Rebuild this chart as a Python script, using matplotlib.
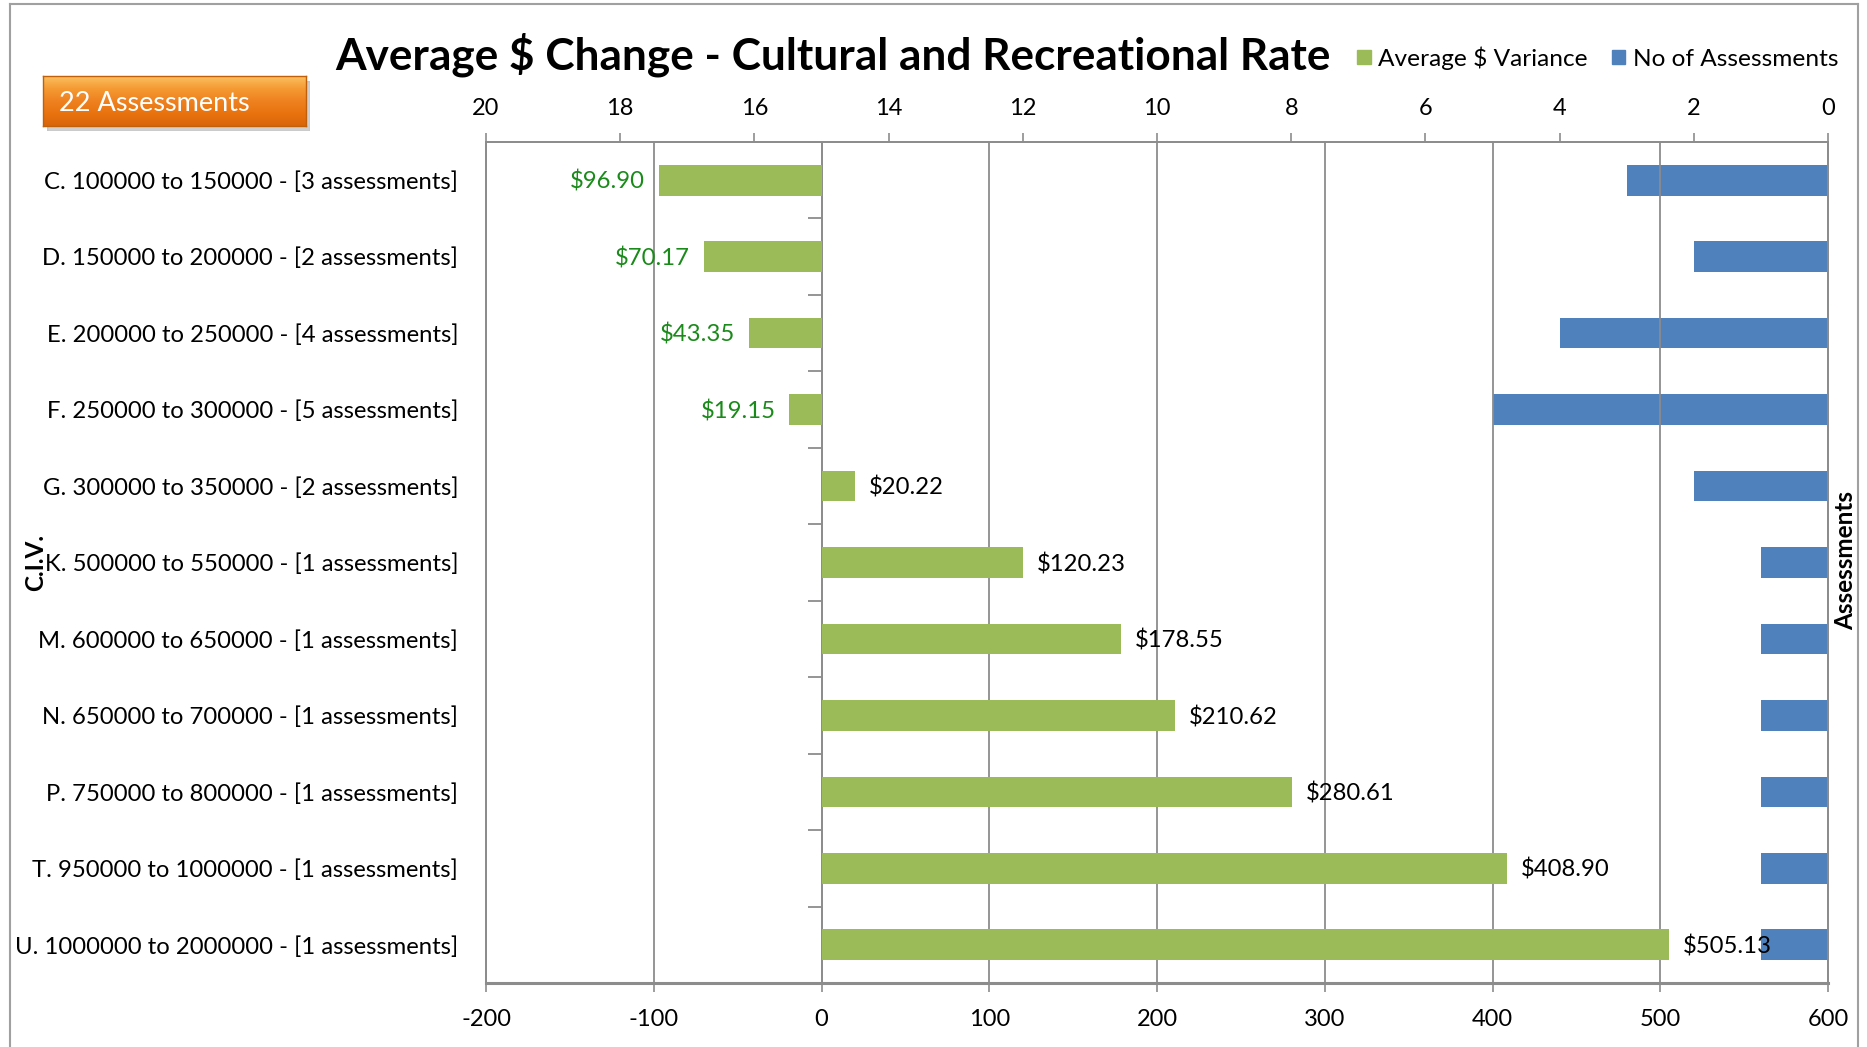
import numpy as np
import matplotlib
matplotlib.use("Agg")
import matplotlib.pyplot as plt
from matplotlib.patches import Patch
from matplotlib.lines import Line2D
from matplotlib.colors import LinearSegmentedColormap

plt.rcParams['font.family'] = ['Lato', 'DejaVu Sans']

categories = [
    "C. 100000 to 150000 - [3 assessments]",
    "D. 150000 to 200000 - [2 assessments]",
    "E. 200000 to 250000 - [4 assessments]",
    "F. 250000 to 300000 - [5 assessments]",
    "G. 300000 to 350000 - [2 assessments]",
    "K. 500000 to 550000 - [1 assessments]",
    "M. 600000 to 650000 - [1 assessments]",
    "N. 650000 to 700000 - [1 assessments]",
    "P. 750000 to 800000 - [1 assessments]",
    "T. 950000 to 1000000 - [1 assessments]",
    "U. 1000000 to 2000000 - [1 assessments]",
]
avg_variance = [-96.90, -70.17, -43.35, -19.15, 20.22, 120.23, 178.55, 210.62, 280.61, 408.90, 505.13]
num_assessments = [3, 2, 4, 5, 2, 1, 1, 1, 1, 1, 1]
bottom_ticks = [-200, -100, 0, 100, 200, 300, 400, 500, 600]
top_ticks = [20, 18, 16, 14, 12, 10, 8, 6, 4, 2, 0]

GREEN = '#9BBB59'
BLUE = '#4F81BD'
LABEL_GREEN = '#1A8A1A'
GRID = '#8C8C8C'

W, H = 1867, 1047
fig = plt.figure(figsize=(W / 100, H / 100), dpi=100)

# outer chart frame
fig.add_artist(Line2D([10 / W, 10 / W], [0, 1 - 4 / H], color='#A0A0A0', lw=1.5))
fig.add_artist(Line2D([10 / W, 1858 / W], [1 - 4 / H, 1 - 4 / H], color='#A0A0A0', lw=1.5))
fig.add_artist(Line2D([1858 / W, 1858 / W], [0, 1 - 4 / H], color='#A0A0A0', lw=1.5))

left, right, top, bottom = 486, 1828, 142, 983
ax = fig.add_axes([left / W, 1 - bottom / H, (right - left) / W, (bottom - top) / H])

n = len(categories)
y = np.arange(n)
bh = 0.40

ax.barh(y, avg_variance, height=bh, color=GREEN, zorder=3)
ax.set_xlim(-200, 600)
ax.set_ylim(n - 0.5, -0.5)
ax.set_xticks(bottom_ticks)
ax.set_xticklabels([str(t) for t in bottom_ticks], fontsize=17)
ax.tick_params(axis='x', direction='out', length=6.5, width=1.2, color=GRID, pad=12.5)
ax.set_yticks(y)
ax.set_yticklabels(categories, fontsize=17.2)
ax.tick_params(axis='y', length=0, pad=20)
ax.grid(axis='x', color=GRID, lw=1.3, zorder=1)
for s in ax.spines.values():
    s.set_color(GRID)
    s.set_linewidth(1.3)
ax.spines['bottom'].set_linewidth(2.2)

# category axis crossing at zero, with tick marks between categories
ax.axvline(0, color=GRID, lw=1.3, zorder=2)
ax.hlines(np.arange(n + 1) - 0.5, -8, 0, color=GRID, lw=1.3, zorder=2)

for yi, v in zip(y, avg_variance):
    txt = f"${abs(v):.2f}"
    if v < 0:
        ax.annotate(txt, (v, yi), xytext=(-10, -1.2), textcoords='offset points',
                    ha='right', va='center', fontsize=17.2, color=LABEL_GREEN, zorder=6)
    else:
        ax.annotate(txt, (v, yi), xytext=(10, -1.2), textcoords='offset points',
                    ha='left', va='center', fontsize=17.2, color='black', zorder=6)

ax.set_ylabel("C.I.V.", fontsize=17.5, fontweight='bold')
ax.yaxis.set_label_coords(-0.327, 0.5)

ax2 = ax.twiny()
ax2.barh(y, num_assessments, height=bh, color=BLUE, zorder=3)
ax2.set_xlim(20, 0)
ax2.set_ylim(n - 0.5, -0.5)
ax2.set_xticks(top_ticks)
ax2.set_xticklabels([str(t) for t in top_ticks], fontsize=17)
ax2.tick_params(axis='x', direction='out', length=6.5, width=1.2, color=GRID, pad=10)
for s in ax2.spines.values():
    s.set_color(GRID)
    s.set_linewidth(1.3)
ax.set_zorder(2)
ax.patch.set_visible(False)
ax2.set_zorder(1)

fig.text(1846 / W, 1 - 560 / H, "Assessments", rotation=90, fontsize=17.5,
         fontweight='bold', ha='center', va='center')

fig.text(833 / W, 1 - 55 / H, "Average $ Change - Cultural and Recreational Rate",
         fontsize=31.8, fontweight='bold', ha='center', va='center')

handles = [Patch(color=GREEN, label='Average $ Variance'),
           Patch(color=BLUE, label='No of Assessments')]
fig.legend(handles=handles, loc='center right', bbox_to_anchor=(1848 / W, 1 - 58 / H),
           ncol=2, frameon=False, fontsize=17.6, handlelength=0.55, handleheight=0.55,
           handletextpad=0.3, columnspacing=1.0, borderaxespad=0)

# orange "22 Assessments" badge
bx0, by0, bx1, by1 = 43, 76, 306, 126
sh = fig.add_axes([(bx0 + 4) / W, 1 - (by1 + 5) / H, (bx1 - bx0) / W, (by1 - by0) / H])
sh.set_axis_off()
sh.add_patch(plt.Rectangle((0, 0), 1, 1, transform=sh.transAxes, color='#B0B0B0', alpha=0.6))
bax = fig.add_axes([bx0 / W, 1 - by1 / H, (bx1 - bx0) / W, (by1 - by0) / H])
cmap = LinearSegmentedColormap.from_list('org', ['#FAC060', '#F59A32', '#EE8220', '#E8730E', '#D9650A'])
grad = np.linspace(0, 1, 100).reshape(-1, 1)
bax.imshow(grad, aspect='auto', cmap=cmap, extent=[0, 1, 0, 1], origin='upper')
bax.set_xticks([]); bax.set_yticks([])
for s in bax.spines.values():
    s.set_color('#C0600A')
    s.set_linewidth(1)
bax.text(0.06, 0.45, "22 Assessments", color='white', fontsize=19.5, ha='left', va='center',
         transform=bax.transAxes)

fig.savefig("out.png", dpi=100)
